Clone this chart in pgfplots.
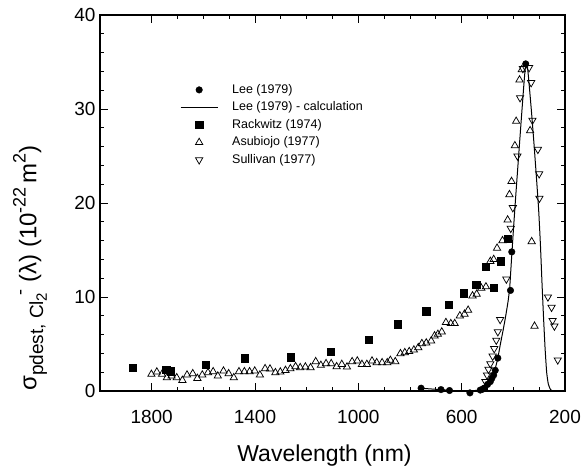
\documentclass[border=0pt]{standalone}
\usepackage{fontspec}
\setmainfont{Liberation Sans}
\usepackage{pgfplots}
\pgfplotsset{compat=1.18}
\newcommand{\sub}[1]{\raisebox{-0.28em}{\fontsize{19}{19}\selectfont #1}}
\newcommand{\subsub}[1]{\raisebox{-0.2em}{\fontsize{15}{15}\selectfont #1}}
\newcommand{\sups}[1]{\raisebox{0.45em}{\fontsize{18}{18}\selectfont #1}}
\begin{document}
\begin{tikzpicture}
\begin{axis}[
  name=ax,
  at={(0pt,0pt)}, anchor=south west,
  scale only axis,
  width=465pt, height=376pt,
  x dir=reverse,
  xmin=200, xmax=2000,
  ymin=0, ymax=40,
  xtick={200,600,1000,1400,1800},
  ytick={0,10,20,30,40},
  minor x tick num=3,
  minor y tick num=4,
  tick align=inside,
  major tick length=8pt,
  minor tick length=4pt,
  axis line style={line width=1.2pt},
  every tick/.style={black, line width=0.8pt},
  clip=false,
  /pgf/number format/assume math mode=true,
  /pgf/number format/set thousands separator={},
  ticklabel style={font=\fontsize{19}{19}\selectfont},
  xticklabel style={anchor=base, yshift=-32pt},
  yticklabel style={anchor=east, xshift=-1pt},
  xlabel={Wavelength (nm)},
  xlabel style={at={(axis description cs:0.5,0)}, anchor=base, yshift=-70pt, xshift=-8pt, font=\fontsize{23}{23}\selectfont},
  ylabel={σ\sub{pdest, Cl\subsub{2}}\kern-0.1em\sups{-}\ (λ)\ (10\sups{-22}\,m\sups{2})},
  ylabel style={at={(axis description cs:-0.1505,0)}, anchor=west, inner sep=0pt, font=\fontsize{24}{24}\selectfont},
  legend style={draw=none, fill=none, at={(axis description cs:0.172,0.822)}, anchor=north west,
    font=\fontsize{12.5}{14}\selectfont, row sep=2pt, inner sep=0pt,
    nodes={inner sep=2pt, text height=9pt, text depth=2.5pt},
    /tikz/every odd column/.append style={column sep=12pt}},
  legend cell align=left,
  legend image code/.code={\draw[mark repeat=2,mark phase=2,#1] plot coordinates {(0pt,0pt) (18.5pt,0pt) (37pt,0pt)};},
]
\addplot[only marks, mark=*, mark size=3.3pt, mark options={fill=black, draw=black}] coordinates {
(757,0.3) (680,0.15) (647,0.05) (568,-0.2) (528,0.1) (518,0.2) (513,0.3) (500,0.7)
(489,1.0) (483,1.35) (476,1.7) (470,2.2) (460,3.5) (411,10.7) (406,14.8) (352,34.8)
};
\addlegendentry{Lee (1979)}
\addplot[no marks, black, line width=1pt, smooth, tension=0.3] coordinates {
(760,0.3) (720,0.22) (680,0.15) (640,0.05) (600,0.0) (560,0.02) (540,0.08) (528,0.15)
(515,0.35) (505,0.6) (495,0.95) (483,1.5) (470,2.4) (460,3.5) (450,5.0) (440,6.4)
(430,7.9) (420,9.6) (414,11.0) (408,13.6) (400,17.0) (390,21.0) (380,24.8) (370,28.6)
(360,32.3) (354,34.3) (350,34.8) (345,34.4) (340,33.0) (330,29.8) (320,26.3) (310,22.5)
(302,19.3) (295,15.5) (289,11.5) (283,7.8) (277,4.5) (271,2.0) (265,0.8) (258,0.25)
(250,0.0) (240,0.0)
};
\addlegendentry{Lee (1979) - calculation}
\addplot[only marks, mark=square*, mark size=3.6pt, mark options={fill=black, draw=black}] coordinates {
(1874,2.5) (1744,2.3) (1727,2.1) (1590,2.8) (1439,3.5) (1263,3.6) (1107,4.2) (959,5.5)
(848,7.1) (737,8.5) (649,9.2) (592,10.4) (544,11.3) (506,13.2) (475,11.0) (448,13.8) (423,16.2)
};
\addlegendentry{Rackwitz (1974)}
\addplot[only marks, mark=triangle, mark size=4.2pt, mark options={draw=black, line width=0.75pt}] coordinates {
(1801,1.78) (1780,2.03) (1760,1.78) (1741,1.42) (1723,1.6) (1703,1.42) (1681,1.14) (1663,1.71)
(1641,1.85) (1623,1.35) (1604,1.71) (1582,1.96) (1562,2.06) (1544,1.6) (1522,2.13) (1502,1.85)
(1482,1.42) (1462,2.06) (1441,2.06) (1421,2.06) (1401,2.13) (1381,1.71) (1361,2.38) (1342,2.35)
(1321,1.96) (1302,2.03) (1282,2.2) (1263,2.38) (1243,2.6) (1225,2.49) (1205,2.56) (1185,2.49)
(1165,3.13) (1145,2.74) (1125,2.92) (1105,2.92) (1084,2.6) (1064,2.84) (1044,2.56) (1024,3.13)
(1004,3.2) (986,2.84) (967,2.84) (947,3.2) (929,3.02) (908,3.02) (888,3.02) (876,3.27)
(857,3.13) (837,3.98) (820,4.09) (803,4.2) (785,4.37) (768,4.62) (754,5.05) (737,5.12)
(718,5.33) (705,5.87) (692,6.04) (677,6.29) (661,7.29) (642,7.18) (627,7.18) (607,8.0)
(589,8.18) (575,8.6) (558,10.13) (542,10.31) (524,10.95) (506,11.09) (489,13.8) (476,14.0)
(463,15.2) (442,16.0) (422,18.2) (415,20.9) (407,22.3) (394,26.1) (389,28.7) (376,33.1)
(367,34.2) (335,27.7) (329,15.9) (318,6.9)
};
\addlegendentry{Asubiojo (1977)}
\addplot[only marks, mark=triangle, mark size=4.2pt, mark options={draw=black, line width=0.75pt, rotate=180}] coordinates {
(508,1.0) (502,1.7) (496,2.3) (489,2.9) (480,3.7) (474,4.5) (466,5.4) (460,6.3) (451,7.6)
(427,11.9) (410,17.3) (402,19.5) (384,25.0) (374,31.2) (363,34.3) (339,34.4) (331,32.8)
(326,28.8) (305,25.7) (300,23.1) (299,20.5) (266,10.0) (252,8.9) (248,7.5) (241,6.9) (228,3.3)
};
\addlegendentry{Sullivan (1977)}
\end{axis}
\pgfresetboundingbox
\useasboundingbox (-100pt,-76pt) rectangle (482pt,391pt);
\end{tikzpicture}
\end{document}
